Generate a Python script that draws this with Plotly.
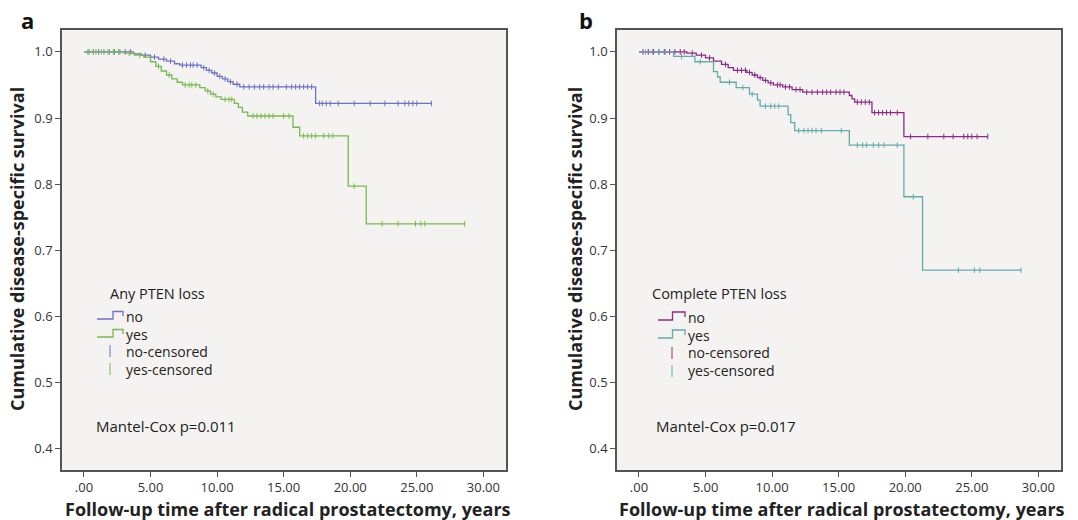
import plotly.graph_objects as go
import numpy as np

W, H = 1078, 520

# ---------------- data ----------------
# Panel a: Any PTEN loss
a_no_t = [0, 3.7, 4.3, 5.0, 5.6, 6.2, 6.8, 7.2, 8.8, 9.2, 9.6, 10.0, 10.4, 10.8, 11.2, 11.7, 17.4, 26.1]
a_no_s = [1.0, .997, .995, .992, .989, .986, .982, .980, .976, .972, .968, .963, .959, .955, .951, .947, .922, .922]
a_no_c = [0.3, 0.7, 1.1, 1.5, 1.9, 2.3, 2.7, 3.1, 3.5, 4.6, 5.3, 6.0, 6.5, 7.4, 7.7, 8.0, 8.2, 8.5, 9.0,
          9.4, 9.8, 10.2, 10.6, 11.0, 11.5, 12.0, 12.4, 12.8, 13.2, 13.5, 13.9, 14.2, 14.6, 15.2, 15.6,
          15.9, 16.2, 16.5, 16.8, 17.1, 17.7, 17.9, 18.2, 18.5, 19.1, 20.3, 21.5, 22.6, 23.6, 24.1,
          24.4, 24.7, 25.0, 26.1]
a_yes_t = [0, 3.0, 3.8, 4.5, 5.0, 5.4, 5.8, 6.2, 6.6, 7.0, 7.4, 8.7, 9.1, 9.5, 9.9, 10.3, 11.3, 11.6,
           11.9, 12.3, 15.7, 16.2, 19.85, 21.2, 28.6]
a_yes_s = [1.0, .998, .995, .992, .985, .978, .971, .965, .959, .954, .950, .946, .941, .936, .932, .928,
           .922, .916, .909, .903, .886, .873, .797, .740, .740]
a_yes_c = [0.4, 0.9, 1.3, 1.8, 2.2, 2.6, 3.4, 4.2, 5.6, 6.4, 7.6, 7.9, 8.1, 8.4, 9.3, 9.7, 10.6, 10.9,
           11.1, 12.7, 13.0, 13.3, 13.6, 13.9, 14.2, 15.0, 15.4, 16.5, 16.8, 17.1, 17.4, 18.0, 18.4,
           18.7, 20.3, 22.4, 23.6, 24.9, 25.3, 25.6, 28.6]

# Panel b: Complete PTEN loss
b_no_t = [0, 3.6, 4.3, 5.0, 5.6, 6.2, 6.7, 7.1, 8.1, 8.5, 8.9, 9.3, 9.7, 10.1, 10.8, 11.5, 12.3,
          15.8, 16.0, 16.2, 17.5, 19.9, 26.2]
b_no_s = [1.0, .998, .995, .991, .986, .981, .976, .972, .969, .965, .961, .957, .953, .950, .947,
          .943, .939, .934, .929, .924, .908, .872, .872]
b_no_c = [0.3, 0.7, 1.1, 1.5, 1.9, 2.3, 2.7, 3.1, 3.4, 4.0, 4.7, 5.3, 6.5, 7.4, 7.7, 8.0, 8.3, 8.7,
          9.1, 9.5, 9.9, 10.4, 10.6, 11.0, 11.3, 11.8, 12.1, 12.6, 13.0, 13.4, 13.8, 14.1, 14.4, 14.8,
          15.1, 15.4, 16.4, 16.7, 17.0, 17.3, 17.7, 18.0, 18.3, 18.6, 18.9, 19.4, 20.4, 21.7, 22.9,
          23.6, 24.4, 24.7, 25.0, 25.4, 26.2]
b_yes_t = [0, 2.6, 4.2, 5.6, 5.9, 6.1, 7.3, 8.3, 8.9, 9.1, 11.2, 11.4, 11.7, 15.8, 19.9, 21.3, 28.7]
b_yes_s = [1.0, .993, .985, .970, .962, .954, .946, .936, .927, .918, .905, .893, .881, .859, .781,
           .670, .670]
b_yes_c = [0.5, 1.0, 1.5, 2.0, 3.2, 4.6, 6.8, 7.8, 8.5, 9.5, 9.9, 10.2, 10.5, 12.0, 12.4, 12.7, 13.0,
           13.3, 13.7, 15.2, 16.4, 16.8, 17.1, 17.6, 18.0, 18.4, 19.4, 20.6, 24.0, 25.2, 25.6, 28.7]

x_ticks = [0, 5, 10, 15, 20, 25, 30]
x_ticktext = [".00", "5.00", "10.00", "15.00", "20.00", "25.00", "30.00"]
y_ticks = [0.4, 0.5, 0.6, 0.7, 0.8, 0.9, 1.0]
y_ticktext = ["0.4", "0.5", "0.6", "0.7", "0.8", "0.9", "1.0"]

# ---------------- styles ----------------
C_BLUE = "#6c72c4"
C_GREEN = "#78b84e"
C_MAG = "#8c2b86"
C_TEAL = "#62aaac"
BG = "#f5f3f1"
AXC = "#555555"
FONT = "Open Sans"


def surv_at(ts, ss, t):
    idx = np.searchsorted(np.array(ts), t, side="right") - 1
    return ss[max(idx, 0)]


fig = go.Figure()


def add_curve(ts, ss, cs, color, name, xa, ya):
    fig.add_trace(go.Scatter(x=ts, y=ss, mode="lines", line=dict(color=color, width=1.3, shape="hv"),
                             name=name, xaxis=xa, yaxis=ya, showlegend=False, hoverinfo="x+y"))
    fig.add_trace(go.Scatter(x=cs, y=[surv_at(ts, ss, c) for c in cs], mode="markers",
                             marker=dict(symbol="line-ns", size=4, line=dict(color=color, width=1)),
                             name=name + "-censored", xaxis=xa, yaxis=ya, showlegend=False,
                             hoverinfo="x+y"))


add_curve(a_no_t, a_no_s, a_no_c, C_BLUE, "no", "x", "y")
add_curve(a_yes_t, a_yes_s, a_yes_c, C_GREEN, "yes", "x", "y")
add_curve(b_no_t, b_no_s, b_no_c, C_MAG, "no", "x2", "y2")
add_curve(b_yes_t, b_yes_s, b_yes_c, C_TEAL, "yes", "x2", "y2")


def px(x):
    return x / W


def py(y):
    return 1 - y / H


def axis_common():
    return dict(showline=True, linecolor=AXC, linewidth=1.5, mirror=True, ticks="outside",
                ticklen=5, tickcolor=AXC, tickwidth=1, showgrid=False, zeroline=False,
                tickfont=dict(family=FONT, size=13, color="#333333"))


xr = [-1.65, 31.7]
yr = [0.368, 1.033]
ydom = [py(470), py(30)]

fig.update_layout(
    width=W, height=H, margin=dict(l=0, r=0, t=0, b=0),
    paper_bgcolor="white", plot_bgcolor=BG, showlegend=False,
    xaxis=dict(domain=[px(62), px(506)], range=xr, tickvals=x_ticks, ticktext=x_ticktext,
               anchor="y", **axis_common()),
    yaxis=dict(domain=ydom, range=yr, tickvals=y_ticks, ticktext=y_ticktext, anchor="x",
               **axis_common()),
    xaxis2=dict(domain=[px(617), px(1061)], range=xr, tickvals=x_ticks, ticktext=x_ticktext,
                anchor="y2", **axis_common()),
    yaxis2=dict(domain=ydom, range=yr, tickvals=y_ticks, ticktext=y_ticktext, anchor="x2",
                **axis_common()),
)

annotations = []
shapes = []


def text(x, y, s, size=14, bold=False, xanchor="left", angle=0, color="#222222"):
    annotations.append(dict(x=px(x), y=py(y), xref="paper", yref="paper", text=(f"<b>{s}</b>" if bold else s),
                            showarrow=False, xanchor=xanchor, yanchor="middle", textangle=angle,
                            font=dict(family=FONT, size=size, color=color)))


def step_icon(x0, xr_, xe, ylow, yhigh, yend, color):
    path = (f"M {px(x0)},{py(ylow)} L {px(xr_)},{py(ylow)} L {px(xr_)},{py(yhigh)} "
            f"L {px(xe)},{py(yhigh)} L {px(xe)},{py(yend)}")
    shapes.append(dict(type="path", path=path, xref="paper", yref="paper",
                       line=dict(color=color, width=1.3)))


def vtick(x, y0, y1, color):
    shapes.append(dict(type="line", x0=px(x), x1=px(x), y0=py(y0), y1=py(y1), xref="paper",
                       yref="paper", line=dict(color=color, width=1)))


# panel labels
text(27, 20, "a", size=22, bold=True, xanchor="center", color="#111111")
text(586, 20, "b", size=22, bold=True, xanchor="center", color="#111111")

# axis titles
for cx, cy in [(17, 249), (575, 249)]:
    text(cx, cy, "Cumulative disease-specific survival", size=18, bold=True, xanchor="center",
         angle=-90, color="#222222")
for cx in [288, 842]:
    text(cx, 509, "Follow-up time after radical prostatectomy, years", size=18, bold=True,
         xanchor="center", color="#222222")

# legends
text(108, 293, "Any PTEN loss", size=14.5)
step_icon(97, 113, 123, 319, 311.5, 316, C_BLUE)
text(124, 316, "no")
step_icon(97, 113, 123, 337, 329.5, 334, C_GREEN)
text(124, 334, "yes")
vtick(110, 345, 357, C_BLUE)
text(124, 351, "no-censored")
vtick(110, 363, 375, C_GREEN)
text(124, 369, "yes-censored")
text(94, 426, "Mantel-Cox p=0.011", size=15)

text(650, 293, "Complete PTEN loss", size=14.5)
step_icon(658, 672.5, 685, 320, 312, 317, C_MAG)
text(686, 317, "no")
step_icon(658, 672.5, 685, 338, 330, 335, C_TEAL)
text(686, 335, "yes")
vtick(672, 347, 359, C_MAG)
text(686, 352, "no-censored")
vtick(672, 365, 377, C_TEAL)
text(686, 370, "yes-censored")
text(654, 426, "Mantel-Cox p=0.017", size=15)

fig.update_layout(annotations=annotations, shapes=shapes)

fig.write_html("out.html", config={"displayModeBar": False},
               post_script="document.body.style.margin='0px';document.body.style.overflow='hidden';")
